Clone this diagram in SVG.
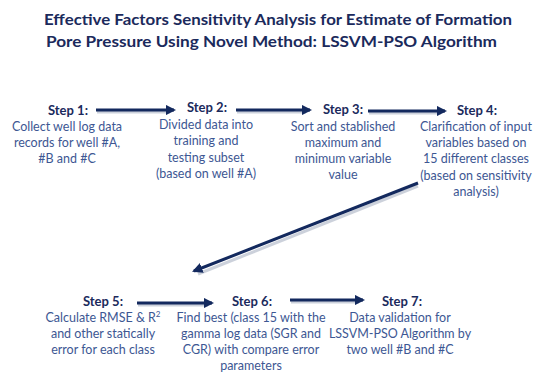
<svg xmlns="http://www.w3.org/2000/svg" width="535" height="372" viewBox="0 0 535 372">
<style>
.title{font-family:Lato,"Open Sans","Liberation Sans",sans-serif;font-weight:bold;font-size:15.5px;fill:#1b2a5c}
.hd{font-family:Lato,"Open Sans","Liberation Sans",sans-serif;font-weight:bold;font-size:13px;fill:#1b2a5c;text-anchor:middle}
.bd{font-family:Lato,"Open Sans","Liberation Sans",sans-serif;font-size:12.5px;fill:#3d5793;text-anchor:middle}
.ar{stroke:#13295e;stroke-width:3;fill:none;marker-end:url(#ah)}
.sh{stroke:#9aa3b8;stroke-width:3;fill:none;opacity:0.5}
</style>
<defs>
<marker id="ah" viewBox="0 0 10 10" refX="8" refY="5" markerWidth="3.5" markerHeight="3.5" orient="auto" markerUnits="strokeWidth">
<path d="M0,0 L10,5 L0,10 Z" fill="#13295e"/>
</marker>
</defs>
<rect width="535" height="372" fill="#ffffff"/>
<g id="title">
<text class="title" x="44" y="25" textLength="468" lengthAdjust="spacingAndGlyphs">Effective Factors Sensitivity Analysis for Estimate of Formation</text>
<text class="title" x="46" y="47" textLength="451" lengthAdjust="spacingAndGlyphs">Pore Pressure Using Novel Method: LSSVM-PSO Algorithm</text>
</g>
<g id="connectors">
<line class="sh" x1="97" y1="112" x2="170" y2="112"/>
<line class="ar" x1="96" y1="110" x2="174" y2="110"/>
<line class="sh" x1="237" y1="112" x2="306" y2="112"/>
<line class="ar" x1="236" y1="110" x2="310" y2="110"/>
<line class="sh" x1="369" y1="113" x2="441" y2="113"/>
<line class="ar" x1="368" y1="111" x2="445" y2="111"/>
<line class="sh" x1="418" y1="186" x2="198" y2="274"/>
<line class="ar" x1="418" y1="183" x2="194" y2="271"/>
<line class="sh" x1="138" y1="305" x2="208" y2="305"/>
<line class="ar" x1="137" y1="303" x2="212" y2="303"/>
<line class="sh" x1="291" y1="302" x2="359" y2="302"/>
<line class="ar" x1="290" y1="300" x2="363" y2="300"/>
</g>
<g id="step1">
<text class="hd" x="68" y="115">Step 1:</text>
<text class="bd" x="67" y="131">Collect well log data</text>
<text class="bd" x="67" y="147">records for well #A,</text>
<text class="bd" x="67" y="163">#B and #C</text>
</g>
<g id="step2">
<text class="hd" x="207" y="112">Step 2:</text>
<text class="bd" x="206" y="129">Divided data into</text>
<text class="bd" x="206" y="145">training and</text>
<text class="bd" x="206" y="162">testing subset</text>
<text class="bd" x="206" y="178">(based on well #A)</text>
</g>
<g id="step3">
<text class="hd" x="343" y="114">Step 3:</text>
<text class="bd" x="343" y="131">Sort and stablished</text>
<text class="bd" x="343" y="147">maximum and</text>
<text class="bd" x="343" y="163">minimum variable</text>
<text class="bd" x="343" y="179">value</text>
</g>
<g id="step4">
<text class="hd" x="477" y="115">Step 4:</text>
<text class="bd" x="476" y="131">Clarification of input</text>
<text class="bd" x="476" y="147">variables based on</text>
<text class="bd" x="476" y="163">15 different classes</text>
<text class="bd" x="476" y="180">(based on sensitivity</text>
<text class="bd" x="476" y="196">analysis)</text>
</g>
<g id="step5">
<text class="hd" x="103" y="306">Step 5:</text>
<text class="bd" x="103" y="322">Calculate RMSE &amp; R<tspan dy="-5" font-size="8">2</tspan></text>
<text class="bd" x="103" y="338">and other statically</text>
<text class="bd" x="103" y="354">error for each class</text>
</g>
<g id="step6">
<text class="hd" x="252" y="306">Step 6:</text>
<text class="bd" x="251" y="322">Find best (class 15 with the</text>
<text class="bd" x="251" y="338">gamma log data (SGR and</text>
<text class="bd" x="251" y="354">CGR) with compare error</text>
<text class="bd" x="251" y="370">parameters</text>
</g>
<g id="step7">
<text class="hd" x="402" y="306">Step 7:</text>
<text class="bd" x="400" y="322">Data validation for</text>
<text class="bd" x="400" y="338">LSSVM-PSO Algorithm by</text>
<text class="bd" x="400" y="354">two well #B and #C</text>
</g>
</svg>
